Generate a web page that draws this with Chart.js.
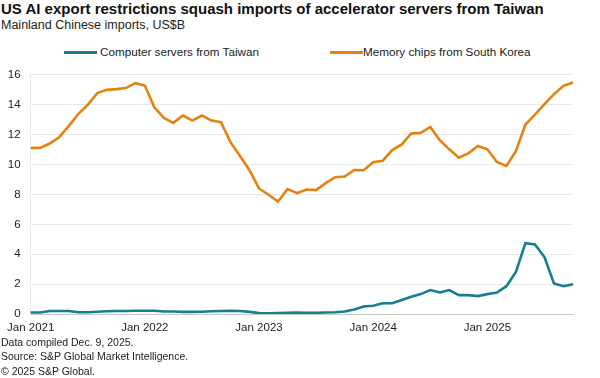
<!DOCTYPE html>
<html>
<head>
<meta charset="utf-8">
<script src="https://cdn.jsdelivr.net/npm/chart.js@4/dist/chart.umd.min.js"></script>
<style>
  html, body { margin: 0; padding: 0; background: #fff; }
  body { width: 600px; height: 378px; position: relative; overflow: hidden; font-family: "Liberation Sans", Arial, sans-serif; color: #1a1a1a; }
  .t { position: absolute; white-space: nowrap; }
  #title { left: 1px; top: 1px; font-size: 15px; line-height: 15px; font-weight: bold; color: #111; }
  #subtitle { left: 1px; top: 19px; font-size: 12.5px; line-height: 12.5px; color: #222; }
  .lg-line { position: absolute; height: 3px; top: 50.5px; }
  .lg-text { position: absolute; top: 46px; font-size: 11.7px; line-height: 11.7px; color: #222; white-space: nowrap; }
  .foot { position: absolute; left: 1px; font-size: 10.5px; line-height: 10.5px; color: #222; white-space: nowrap; }
  #wrap { position: absolute; left: 0; top: 58px; width: 600px; height: 282px; }
</style>
</head>
<body>
<div id="title" class="t">US AI export restrictions squash imports of accelerator servers from Taiwan</div>
<div id="subtitle" class="t">Mainland Chinese imports, US$B</div>
<div id="legend"></div>
<div id="wrap"><canvas id="c"></canvas></div>
<div class="foot" style="top:337px">Data compiled Dec. 9, 2025.</div>
<div class="foot" style="top:350.5px">Source: S&amp;P Global Market Intelligence.</div>
<div class="foot" style="top:366px">© 2025 S&amp;P Global.</div>
<script>
const months = [
  "Jan 2021","Feb 2021","Mar 2021","Apr 2021","May 2021","Jun 2021","Jul 2021","Aug 2021","Sep 2021","Oct 2021","Nov 2021","Dec 2021",
  "Jan 2022","Feb 2022","Mar 2022","Apr 2022","May 2022","Jun 2022","Jul 2022","Aug 2022","Sep 2022","Oct 2022","Nov 2022","Dec 2022",
  "Jan 2023","Feb 2023","Mar 2023","Apr 2023","May 2023","Jun 2023","Jul 2023","Aug 2023","Sep 2023","Oct 2023","Nov 2023","Dec 2023",
  "Jan 2024","Feb 2024","Mar 2024","Apr 2024","May 2024","Jun 2024","Jul 2024","Aug 2024","Sep 2024","Oct 2024","Nov 2024","Dec 2024",
  "Jan 2025","Feb 2025","Mar 2025","Apr 2025","May 2025","Jun 2025","Jul 2025","Aug 2025","Sep 2025","Oct 2025"
];
const tickLabels = ["Jan 2021","Jan 2022","Jan 2023","Jan 2024","Jan 2025"];
const seriesNames = ["Computer servers from Taiwan","Memory chips from South Korea"];
const seriesColors = ["#177d93","#e4820f"];
const serversTaiwan = [
  0.10,0.10,0.20,0.20,0.20,0.12,0.12,0.15,0.18,0.20,0.20,0.22,
  0.22,0.22,0.17,0.17,0.14,0.14,0.15,0.18,0.20,0.22,0.20,0.14,
  0.06,0.05,0.07,0.08,0.10,0.08,0.08,0.10,0.12,0.17,0.30,0.50,
  0.55,0.72,0.72,0.93,1.15,1.33,1.60,1.44,1.60,1.26,1.26,1.20,
  1.33,1.44,1.86,2.81,4.74,4.65,3.81,2.04,1.86,1.99
];
const memoryKorea = [
  11.12,11.12,11.41,11.83,12.57,13.38,14.00,14.78,15.00,15.05,15.12,15.45,
  15.29,13.83,13.12,12.79,13.28,12.94,13.28,12.94,12.83,11.50,10.57,9.62,
  8.40,7.98,7.53,8.36,8.09,8.33,8.29,8.76,9.15,9.20,9.64,9.62,
  10.15,10.26,10.97,11.35,12.08,12.12,12.52,11.63,11.02,10.46,10.75,11.24,
  11.02,10.17,9.91,10.90,12.68,13.34,14.05,14.71,15.27,15.49
];
const yTicks = [0,2,4,6,8,10,12,14,16];

// HTML legend
const legendPos = [{line:64, text:100},{line:330, text:363}];
const lg = document.getElementById('legend');
seriesNames.forEach((n,i)=>{
  const l = document.createElement('div'); l.className='lg-line';
  l.style.left = legendPos[i].line+'px'; l.style.width='33px'; l.style.background=seriesColors[i];
  const t = document.createElement('div'); t.className='lg-text';
  t.style.left = legendPos[i].text+'px'; t.textContent = n;
  lg.appendChild(l); lg.appendChild(t);
});

const font = {family: '"Liberation Sans", Arial, sans-serif', size: 11.5};
new Chart(document.getElementById('c'), {
  type: 'line',
  data: {
    labels: months,
    datasets: [
      {label: seriesNames[0], data: serversTaiwan, borderColor: seriesColors[0], backgroundColor: seriesColors[0], borderWidth: 2.6, pointRadius: 0, tension: 0},
      {label: seriesNames[1], data: memoryKorea, borderColor: seriesColors[1], backgroundColor: seriesColors[1], borderWidth: 2.6, pointRadius: 0, tension: 0}
    ]
  },
  options: {
    responsive: true, maintainAspectRatio: false, animation: false,
    layout: {padding: {top: 15, right: 27, left: 0, bottom: 0}},
    plugins: {legend: {display: false}, tooltip: {enabled: false}},
    scales: {
      x: {
        offset: false,
        grid: {display: false, drawTicks: false},
        border: {display: true, color: '#c8c8c8', width: 1},
        ticks: {
          autoSkip: false, maxRotation: 0, padding: 7, color: '#222', font: font,
          callback: function(v, i) { const lab = months[i]; return tickLabels.includes(lab) ? lab : ''; }
        },
        afterFit: s => { s.height = 26; }
      },
      y: {
        min: 0, max: 16,
        afterBuildTicks: s => { s.ticks = yTicks.map(v => ({value: v})); },
        grid: {color: '#e9e9e9', lineWidth: 1, drawTicks: false},
        border: {display: true, color: '#e9e9e9'},
        ticks: {padding: 10, color: '#222', font: font},
        afterFit: s => { s.width = 26.5; }
      }
    }
  }
});
</script>
</body>
</html>
